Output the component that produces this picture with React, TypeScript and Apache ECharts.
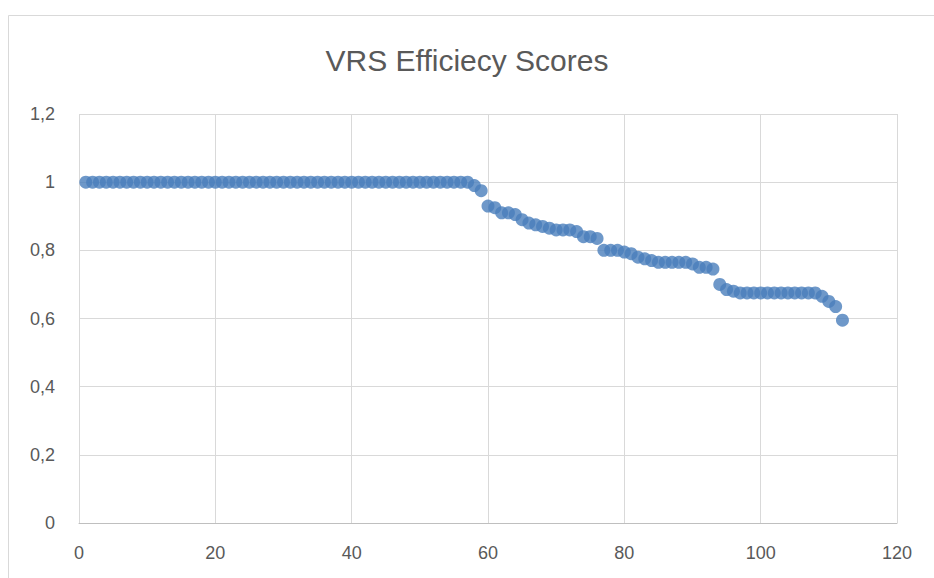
import React, { useEffect, useRef } from "react";
import * as echarts from "echarts";

const titleText = "VRS Efficiecy Scores";
// DMU rank (1..112) and VRS efficiency score
const declineScores = [
  0.99, 0.975, 0.93, 0.925, 0.91, 0.91, 0.905, 0.89, 0.88, 0.875, 0.87, 0.865,
  0.86, 0.86, 0.86, 0.855, 0.84, 0.84, 0.835, 0.8, 0.8, 0.8, 0.795, 0.79, 0.78,
  0.775, 0.77, 0.765, 0.765, 0.765, 0.765, 0.765, 0.76, 0.75, 0.75, 0.745, 0.7,
  0.685, 0.68, 0.675, 0.675, 0.675, 0.675, 0.675, 0.675, 0.675, 0.675, 0.675,
  0.675, 0.675, 0.675, 0.665, 0.65, 0.635, 0.595,
];
const efficientCount = 57;
const scores: number[] = [...Array(efficientCount).fill(1), ...declineScores];
const points: [number, number][] = scores.map((v, i) => [i + 1, v]);

const xTicks = { min: 0, max: 120, interval: 20 };
const yTicks = { min: 0, max: 1.2, interval: 0.2 };

export default function App() {
  const ref = useRef<HTMLDivElement>(null);
  useEffect(() => {
    if (!ref.current) return;
    const chart = echarts.init(ref.current, undefined, { renderer: "svg" });
    const labelFont = { fontFamily: "Liberation Sans", fontSize: 18, color: "#595959" };
    chart.setOption({
      animation: false,
      backgroundColor: "#ffffff",
      graphic: [
        {
          type: "rect",
          shape: { x: 8.5, y: 15.5, width: 1000, height: 1000 },
          style: { fill: "none", stroke: "#d9d9d9", lineWidth: 1 },
          silent: true,
        },
      ],
      title: {
        text: titleText,
        left: "center",
        top: 40,
        textStyle: {
          fontFamily: "Liberation Sans",
          fontSize: 30,
          fontWeight: "normal",
          color: "#595959",
        },
      },
      grid: { left: 79, right: 37, top: 114, bottom: 55 },
      xAxis: {
        type: "value",
        min: xTicks.min,
        max: xTicks.max,
        interval: xTicks.interval,
        axisLine: { show: true, lineStyle: { color: "#bfbfbf" } },
        axisTick: { show: false },
        splitLine: { show: true, lineStyle: { color: "#d9d9d9" } },
        axisLabel: { ...labelFont, margin: 21 },
      },
      yAxis: {
        type: "value",
        min: yTicks.min,
        max: yTicks.max,
        interval: yTicks.interval,
        axisLine: { show: false },
        axisTick: { show: false },
        splitLine: { show: true, lineStyle: { color: "#d9d9d9" } },
        axisLabel: {
          ...labelFont,
          margin: 24,
          formatter: (v: number) => String(Math.round(v * 10) / 10).replace(".", ","),
        },
      },
      series: [
        {
          type: "scatter",
          data: points,
          symbol: "circle",
          symbolSize: 13,
          itemStyle: { color: "#4a7ebb" },
        },
      ],
    });
    return () => chart.dispose();
  }, []);
  return <div ref={ref} style={{ width: 934, height: 578, position: "absolute", left: 0, top: 0 }} />;
}
